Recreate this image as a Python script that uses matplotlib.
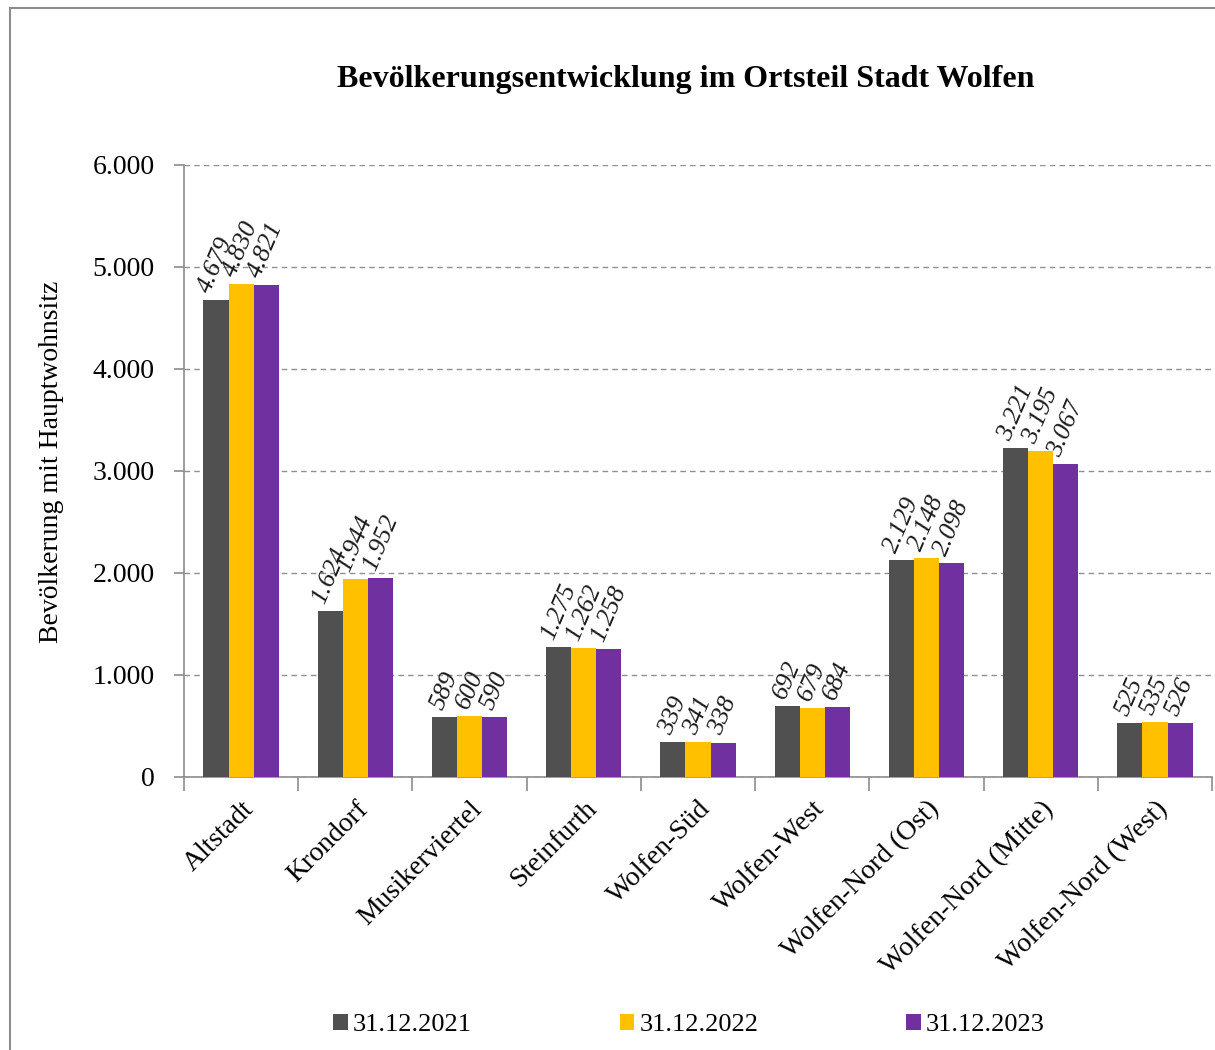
import matplotlib.pyplot as plt
import numpy as np
from matplotlib.patches import Rectangle

plt.rcParams['font.family'] = ['Liberation Serif', 'DejaVu Serif']

categories = ['Altstadt', 'Krondorf', 'Musikerviertel', 'Steinfurth', 'Wolfen-Süd',
              'Wolfen-West', 'Wolfen-Nord (Ost)', 'Wolfen-Nord (Mitte)', 'Wolfen-Nord (West)']
series_names = ['31.12.2021', '31.12.2022', '31.12.2023']
values_2021 = [4679, 1624, 589, 1275, 339, 692, 2129, 3221, 525]
values_2022 = [4830, 1944, 600, 1262, 341, 679, 2148, 3195, 535]
values_2023 = [4821, 1952, 590, 1258, 338, 684, 2098, 3067, 526]
colors = ['#505050', '#FFC000', '#7030A0']


def de_fmt(v):
    return f"{int(v):,}".replace(",", ".")


fig = plt.figure(figsize=(12.15, 10.5), dpi=100)
ax = fig.add_axes([0.1514, 0.26, 0.8462, 0.583])

# outer frame like the exported chart area
fig.patches.append(Rectangle((0.008, -0.01), 1.1, 1.002, transform=fig.transFigure,
                             fill=False, edgecolor='#8c8c8c', linewidth=1.5))

x = np.arange(len(categories))
width = 0.22
all_series = [values_2021, values_2022, values_2023]
for i, (vals, name, col) in enumerate(zip(all_series, series_names, colors)):
    pos = x + (i - 1) * width
    ax.bar(pos, vals, width, color=col, label=name, zorder=3)
    for px, v in zip(pos, vals):
        ax.annotate(de_fmt(v), xy=(px, v), xytext=(0, 3), textcoords='offset points',
                    ha='center', va='bottom', rotation=67, fontsize=18.5,
                    style='italic', color='#1a1a1a')

ax.set_xlim(-0.5, len(categories) - 0.5)
ax.set_ylim(0, 6000)
ax.set_yticks(np.arange(0, 6001, 1000))
ax.set_yticklabels([de_fmt(t) for t in np.arange(0, 6001, 1000)], fontsize=20)
ax.yaxis.grid(True, linestyle=(0, (4, 3)), color='#909090', linewidth=1, zorder=0)

ax.set_xticks(x)
ax.set_xticklabels(categories, rotation=45, ha='right', rotation_mode='anchor', fontsize=20)
ax.tick_params(axis='x', which='major', length=0, pad=14)
ax.set_xticks(np.arange(-0.5, len(categories), 1), minor=True)
ax.tick_params(axis='x', which='minor', length=10, color='#8c8c8c', width=1.2)
ax.tick_params(axis='y', length=7, color='#8c8c8c', width=1.2, pad=14)

for s in ['top', 'right']:
    ax.spines[s].set_visible(False)
for s in ['left', 'bottom']:
    ax.spines[s].set_color('#8c8c8c')
    ax.spines[s].set_linewidth(1.2)

ax.set_ylabel('Bevölkerung mit Hauptwohnsitz', fontsize=20)
ax.yaxis.set_label_coords(-0.117, 0.515)
fig.text(0.564, 0.924, 'Bevölkerungsentwicklung im Ortsteil Stadt Wolfen',
         ha='center', va='center', fontsize=23, fontweight='bold')

fig.legend(loc='center', bbox_to_anchor=(0.567, 0.024), ncol=3, frameon=False,
           fontsize=19, handlelength=0.55, handleheight=0.55, handletextpad=0.2,
           columnspacing=5.6)

fig.savefig('out.png', dpi=100)
